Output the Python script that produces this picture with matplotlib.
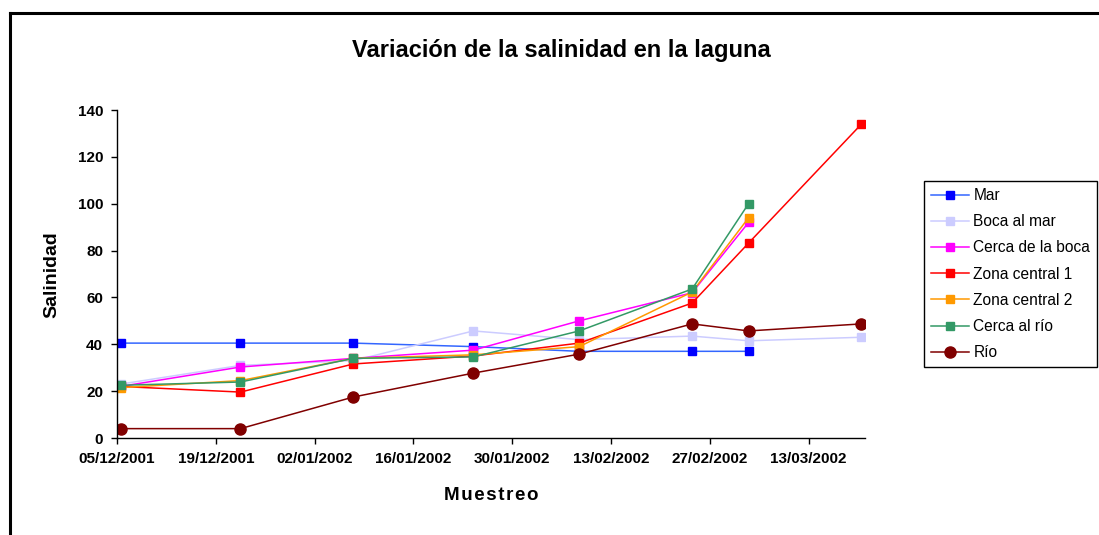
import numpy as np
import pandas as pd
import matplotlib
matplotlib.use("Agg")
import matplotlib.pyplot as plt
import matplotlib.dates as mdates
from matplotlib.lines import Line2D

plt.rcParams['font.family'] = ['Liberation Sans', 'DejaVu Sans']

# sampling dates
fechas = ['2001-12-05', '2001-12-22', '2002-01-07', '2002-01-24',
          '2002-02-08', '2002-02-24', '2002-03-04', '2002-03-20']

nan = np.nan
mar = [40.5, 40.5, 40.5, 39, 37, 37, 37, nan]
boca_mar = [23, 31, 33, 45.7, 42, 43.5, 41.5, 43]
cerca_boca = [22, 30.3, 34, 37.5, 50, 62, 92, nan]
zona1 = [22, 19.6, 31.6, 35, 40.5, 57.6, 83.2, 134]
zona2 = [21.5, 24.5, 34, 35.5, 39, 62.3, 94, nan]
cerca_rio = [22.5, 23.9, 34, 34.6, 45.7, 63.6, 100, nan]
rio = [4, 4, 17.5, 27.7, 35.8, 48.7, 45.7, 48.7]

series = [
    ('Mar', mar, '#0000FF', '#3366FF', 's'),
    ('Boca al mar', boca_mar, '#CCCCFF', '#CCCCFF', 's'),
    ('Cerca de la boca', cerca_boca, '#FF00FF', '#FF00FF', 's'),
    ('Zona central 1', zona1, '#FF0000', '#FF0000', 's'),
    ('Zona central 2', zona2, '#FF9900', '#FF9900', 's'),
    ('Cerca al río', cerca_rio, '#339966', '#339966', 's'),
    ('Río', rio, '#800000', '#800000', 'o'),
]

# Excel places points in the middle of the day
x = pd.to_datetime(fechas) + pd.Timedelta(hours=12)

fig = plt.figure(figsize=(10.99, 5.35), dpi=100)
ax = fig.add_axes([117 / 1099, 1 - 438 / 535, 748 / 1099, 328 / 535])

for name, vals, mcol, lcol, mk in series:
    v = np.array(vals, dtype=float)
    ok = ~np.isnan(v)
    ms = 8 if mk == 'o' else 5.5
    ax.plot(x[ok], v[ok], color=lcol, lw=1.1, marker=mk, markersize=ms,
            markerfacecolor=mcol, markeredgecolor=mcol, label=name)

ax.set_xlim(pd.Timestamp('2001-12-05'), pd.Timestamp('2002-03-21'))
ax.set_ylim(0, 140)
ax.set_yticks(np.arange(0, 141, 20))
ticks = pd.date_range('2001-12-05', '2002-03-13', freq='14D')
ax.set_xticks(ticks)
ax.xaxis.set_major_formatter(mdates.DateFormatter('%d/%m/%Y'))

for s in ['top', 'right']:
    ax.spines[s].set_visible(False)
for s in ['left', 'bottom']:
    ax.spines[s].set_linewidth(1)
ax.tick_params(direction='out', length=4, width=1, labelsize=11, pad=6)
for lab in ax.get_xticklabels() + ax.get_yticklabels():
    lab.set_fontweight('bold')

fig.text(561 / 1099, 1 - 51 / 535, 'Variación de la salinidad en la laguna',
         ha='center', va='center', fontsize=17, fontweight='bold')
fig.text(52 / 1099, 1 - 275 / 535, 'Salinidad', rotation=90,
         ha='center', va='center', fontsize=14, fontweight='bold')
fig.text(491 / 1099, 1 - 495 / 535, '\u200a'.join('Muestreo'),
         ha='center', va='center', fontsize=13.5, fontweight='bold')

leg = fig.legend(loc='upper left', bbox_to_anchor=(924 / 1099, 1 - 181 / 535),
                 bbox_transform=fig.transFigure, borderaxespad=0,
                 fancybox=False, edgecolor='black', framealpha=1,
                 fontsize=11.2, labelspacing=0.72, handlelength=2.45,
                 handletextpad=0.28, borderpad=0.45)
leg.get_frame().set_linewidth(1)

# outer chart border (only left and top visible in the picture)
bx = 9.5 / 1099
by = 1 - 13 / 535
fig.add_artist(Line2D([bx, bx], [0, by], transform=fig.transFigure,
                      color='black', lw=2.2))
fig.add_artist(Line2D([bx, 1], [by, by], transform=fig.transFigure,
                      color='black', lw=2.2))

fig.savefig('out.png', dpi=100)
